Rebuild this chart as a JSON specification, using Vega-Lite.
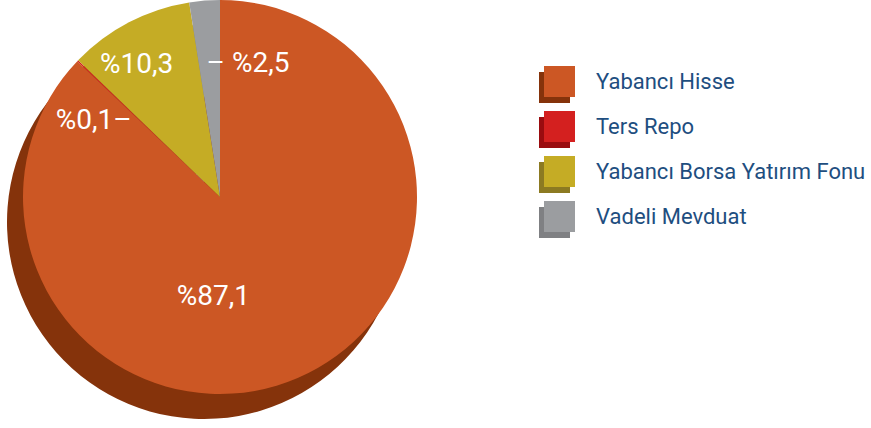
{
  "$schema": "https://vega.github.io/schema/vega-lite/v6.json",
  "width": 440,
  "height": 394,
  "padding": 0,
  "background": "white",
  "config": {"view": {"stroke": null}},
  "data": {"values": [
    {"kat": "Yabancı Hisse", "oran": 87.1, "sira": 1, "etiket": "%87,1"},
    {"kat": "Ters Repo", "oran": 0.1, "sira": 2, "etiket": "%0,1–"},
    {"kat": "Yabancı Borsa Yatırım Fonu", "oran": 10.3, "sira": 3, "etiket": "%10,3"},
    {"kat": "Vadeli Mevduat", "oran": 2.5, "sira": 4, "etiket": "– %2,5"}
  ]},
  "encoding": {
    "theta": {"field": "oran", "type": "quantitative", "stack": true},
    "order": {"field": "sira", "type": "quantitative"}
  },
  "layer": [
    {
      "mark": {"type": "arc", "radius": 197, "xOffset": -16, "yOffset": 25},
      "encoding": {
        "fill": {
          "field": "kat", "type": "nominal",
          "sort": {"field": "sira", "op": "min"},
          "scale": {
            "range": ["#85330b", "#9a0c0f", "#8c7a22", "#7f8083"]
          },
          "legend": {
            "title": null, "orient": "none", "legendX": 539, "legendY": 72, "zindex": 0,
            "symbolType": "square", "symbolSize": 961, "symbolStrokeWidth": 0, "symbolOpacity": 1,
            "labelExpr": "''", "labelFontSize": 1, "labelOffset": 0,
            "rowPadding": 14, "padding": 0
          }
        }
      }
    },
    {
      "mark": {"type": "arc", "radius": 197},
      "encoding": {
        "color": {
          "field": "kat", "type": "nominal",
          "scale": {
            "domain": ["Yabancı Hisse", "Ters Repo", "Yabancı Borsa Yatırım Fonu", "Vadeli Mevduat"],
            "range": ["#cc5724", "#d4201f", "#c5ac25", "#9b9da0"]
          },
          "legend": {
            "title": null, "orient": "none", "legendX": 544, "legendY": 66, "zindex": 2,
            "symbolType": "square", "symbolSize": 961, "symbolStrokeWidth": 0, "symbolOpacity": 1,
            "labelFont": "Roboto", "labelFontSize": 22, "labelColor": "#1e4e80", "labelOffset": 21,
            "labelLimit": 0, "labelBaseline": "middle",
            "rowPadding": 14, "padding": 0
          }
        }
      }
    },
    {
      "mark": {"type": "text", "radius": 100, "dx": -46, "dy": 8, "font": "Roboto", "fontSize": 28, "fill": "white", "align": "center", "baseline": "middle"},
      "encoding": {
        "detail": {"field": "kat"},
        "text": {"condition": {"test": "datum.kat === 'Yabancı Hisse'", "field": "etiket"}, "value": ""}
      }
    },
    {
      "mark": {"type": "text", "radius": 150, "dx": -14, "dy": 1, "font": "Roboto", "fontSize": 28, "fill": "white", "align": "center", "baseline": "middle"},
      "encoding": {
        "detail": {"field": "kat"},
        "text": {"condition": {"test": "datum.kat === 'Yabancı Borsa Yatırım Fonu'", "field": "etiket"}, "value": ""}
      }
    },
    {
      "mark": {"type": "text", "radius": 133, "dx": -3, "dy": 0, "font": "Roboto", "fontSize": 28, "fill": "white", "align": "left", "baseline": "middle"},
      "encoding": {
        "detail": {"field": "kat"},
        "text": {"condition": {"test": "datum.kat === 'Vadeli Mevduat'", "field": "etiket"}, "value": ""}
      }
    },
    {
      "mark": {"type": "text", "radius": 110, "dx": -9, "dy": 0, "font": "Roboto", "fontSize": 28, "fill": "white", "align": "right", "baseline": "middle"},
      "encoding": {
        "detail": {"field": "kat"},
        "text": {"condition": {"test": "datum.kat === 'Ters Repo'", "field": "etiket"}, "value": ""}
      }
    }
  ]
}
